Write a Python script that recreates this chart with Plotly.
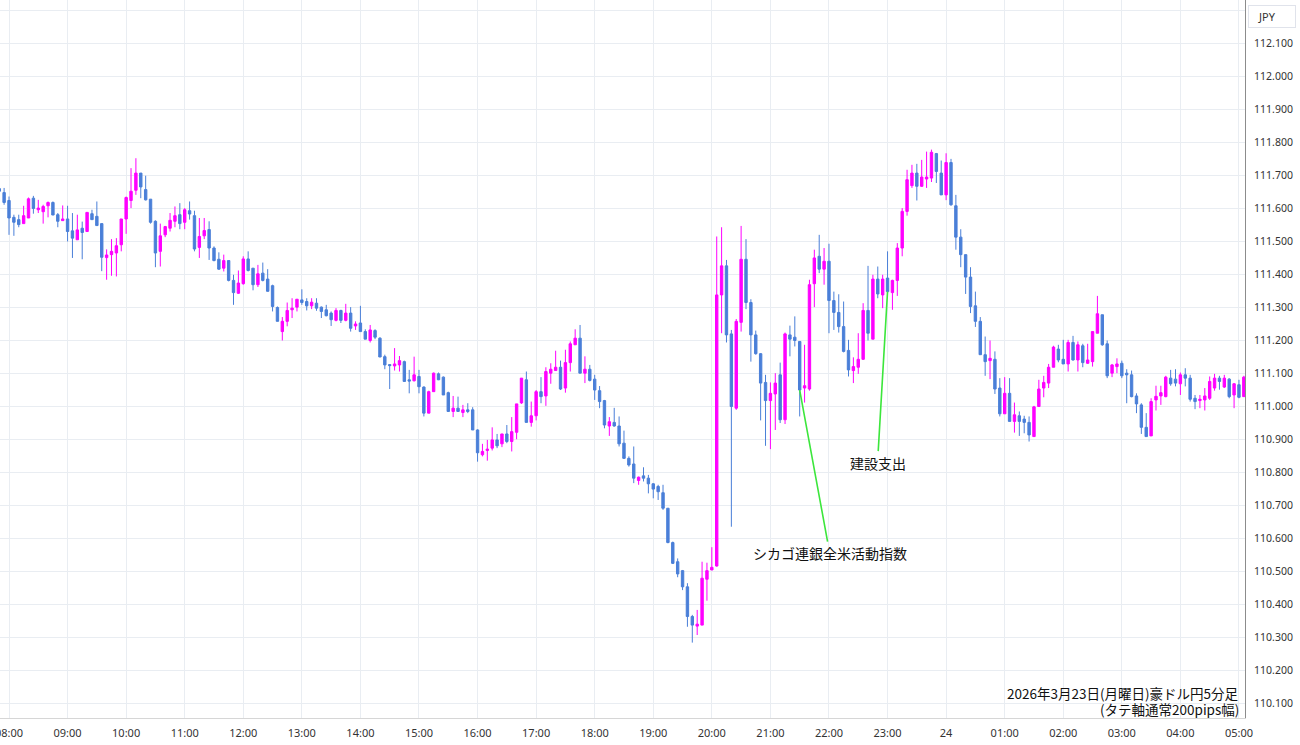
import pandas as pd
import plotly.graph_objects as go

# AUD/JPY 5-minute candles, 2026-03-23 07:50 -> 2026-03-24 05:05
start = "2026-03-23 07:50"

open_ = [
    111.660, 111.648,
    111.624, 111.573, 111.566, 111.554, 111.571, 111.631, 111.596, 111.590, 111.608, 111.618, 111.581, 111.563,
    111.568, 111.532, 111.505, 111.540, 111.530, 111.584, 111.576, 111.554, 111.451, 111.460, 111.465, 111.490,
    111.568, 111.624, 111.655, 111.707, 111.657, 111.628, 111.561, 111.470, 111.520, 111.540, 111.561, 111.581,
    111.558, 111.593, 111.578, 111.482, 111.517, 111.536, 111.480, 111.446, 111.419, 111.442, 111.382, 111.343,
    111.372, 111.447, 111.419, 111.369, 111.404, 111.386, 111.366, 111.300, 111.227, 111.258, 111.293, 111.301,
    111.323, 111.318, 111.305, 111.313, 111.301, 111.293, 111.283, 111.261, 111.291, 111.261, 111.283, 111.244,
    111.253, 111.227, 111.200, 111.230, 111.207, 111.151, 111.127, 111.123, 111.126, 111.136, 111.081, 111.078,
    111.091, 111.059, 110.980, 111.045, 111.099, 111.089, 111.042, 110.985, 110.995, 110.982, 110.990, 110.990,
    110.929, 110.854, 110.867, 110.874, 110.899, 110.887, 110.917, 110.894, 110.922, 111.011, 111.081, 110.952,
    110.972, 111.045, 111.032, 111.101, 111.109, 111.119, 111.056, 111.133, 111.187, 111.207, 111.101, 111.113,
    111.083, 111.048, 111.018, 110.941, 110.952, 110.941, 110.889, 110.843, 110.826, 110.776, 110.790, 110.783,
    110.766, 110.758, 110.739, 110.692, 110.588, 110.530, 110.503, 110.454, 110.364, 110.335, 110.338, 110.477,
    110.505, 110.517, 111.338, 111.426, 111.220, 110.995, 111.255, 111.446, 111.315, 111.217, 111.160, 111.073,
    111.018, 111.038, 111.096, 110.960, 111.217, 111.210, 111.197, 111.056, 111.053, 111.372, 111.455, 111.416,
    111.440, 111.321, 111.285, 111.242, 111.170, 111.109, 111.119, 111.143, 111.291, 111.204, 111.386, 111.338,
    111.389, 111.345, 111.382, 111.480, 111.591, 111.669, 111.707, 111.667, 111.689, 111.692, 111.766, 111.707,
    111.641, 111.739, 111.608, 111.513, 111.460, 111.392, 111.305, 111.258, 111.157, 111.139, 111.143, 111.056,
    110.978, 111.040, 110.955, 110.972, 110.962, 110.952, 110.909, 111.000, 111.056, 111.071, 111.119, 111.174,
    111.143, 111.129, 111.194, 111.141, 111.184, 111.131, 111.136, 111.222, 111.278, 111.190, 111.101, 111.121,
    111.131, 111.101, 111.096, 111.032, 111.005, 110.937, 110.911, 111.020, 111.032, 111.030, 111.086, 111.083,
    111.069, 111.096, 111.086, 111.025, 111.018, 111.020, 111.025, 111.056, 111.086, 111.059, 111.083, 111.035,
    111.066, 111.030,
]

high = [
    111.667, 111.662,
    111.636, 111.581, 111.581, 111.608, 111.633, 111.638, 111.626, 111.611, 111.621, 111.621, 111.586, 111.609,
    111.608, 111.586, 111.581, 111.560, 111.588, 111.596, 111.621, 111.554, 111.476, 111.507, 111.510, 111.568,
    111.636, 111.722, 111.752, 111.707, 111.699, 111.628, 111.564, 111.554, 111.547, 111.586, 111.606, 111.616,
    111.601, 111.621, 111.593, 111.571, 111.571, 111.561, 111.485, 111.467, 111.460, 111.442, 111.399, 111.412,
    111.455, 111.470, 111.419, 111.429, 111.436, 111.416, 111.369, 111.303, 111.271, 111.315, 111.328, 111.325,
    111.355, 111.328, 111.328, 111.328, 111.303, 111.308, 111.288, 111.298, 111.293, 111.311, 111.301, 111.258,
    111.305, 111.234, 111.247, 111.234, 111.210, 111.157, 111.128, 111.177, 111.153, 111.139, 111.111, 111.151,
    111.111, 111.061, 111.048, 111.103, 111.103, 111.091, 111.045, 111.032, 111.030, 111.005, 111.010, 110.998,
    110.931, 110.887, 110.899, 110.937, 110.917, 110.917, 110.944, 110.968, 111.008, 111.086, 111.106, 111.015,
    111.050, 111.089, 111.119, 111.131, 111.169, 111.139, 111.172, 111.197, 111.234, 111.247, 111.152, 111.126,
    111.096, 111.062, 111.020, 110.968, 110.996, 110.970, 110.927, 110.849, 110.879, 110.788, 110.816, 110.793,
    110.768, 110.763, 110.763, 110.692, 110.591, 110.540, 110.505, 110.465, 110.369, 110.384, 110.530, 110.527,
    110.574, 111.515, 111.543, 111.444, 111.232, 111.265, 111.547, 111.507, 111.325, 111.230, 111.162, 111.096,
    111.073, 111.101, 111.133, 111.224, 111.245, 111.273, 111.197, 111.187, 111.384, 111.475, 111.520, 111.480,
    111.493, 111.348, 111.340, 111.318, 111.202, 111.149, 111.222, 111.313, 111.426, 111.399, 111.424, 111.399,
    111.470, 111.384, 111.495, 111.601, 111.717, 111.732, 111.735, 111.747, 111.772, 111.778, 111.768, 111.745,
    111.767, 111.750, 111.641, 111.537, 111.460, 111.422, 111.348, 111.271, 111.212, 111.200, 111.167, 111.086,
    111.089, 111.086, 111.012, 110.985, 110.972, 110.970, 111.002, 111.081, 111.093, 111.129, 111.184, 111.187,
    111.202, 111.202, 111.214, 111.197, 111.190, 111.190, 111.227, 111.335, 111.278, 111.200, 111.129, 111.146,
    111.139, 111.113, 111.109, 111.040, 111.010, 110.980, 111.025, 111.063, 111.063, 111.093, 111.111, 111.113,
    111.103, 111.116, 111.096, 111.035, 111.035, 111.056, 111.091, 111.099, 111.093, 111.096, 111.086, 111.071,
    111.081, 111.093,
]

low = [
    111.645, 111.611,
    111.520, 111.517, 111.543, 111.554, 111.571, 111.584, 111.586, 111.554, 111.573, 111.580, 111.543, 111.563,
    111.500, 111.450, 111.505, 111.446, 111.530, 111.566, 111.548, 111.410, 111.384, 111.396, 111.394, 111.470,
    111.523, 111.601, 111.641, 111.631, 111.624, 111.554, 111.422, 111.424, 111.513, 111.530, 111.543, 111.537,
    111.537, 111.566, 111.470, 111.450, 111.507, 111.444, 111.440, 111.414, 111.409, 111.379, 111.308, 111.341,
    111.369, 111.409, 111.352, 111.362, 111.379, 111.348, 111.288, 111.258, 111.200, 111.243, 111.268, 111.288,
    111.308, 111.291, 111.295, 111.290, 111.268, 111.273, 111.244, 111.258, 111.253, 111.258, 111.227, 111.232,
    111.227, 111.204, 111.194, 111.204, 111.150, 111.113, 111.053, 111.109, 111.106, 111.076, 111.040, 111.076,
    111.040, 110.970, 110.980, 111.045, 111.080, 111.035, 110.985, 110.968, 110.985, 110.968, 110.980, 110.929,
    110.833, 110.849, 110.836, 110.867, 110.874, 110.877, 110.889, 110.864, 110.901, 111.008, 110.952, 110.939,
    110.958, 111.010, 111.002, 111.069, 111.109, 111.050, 111.042, 111.106, 111.187, 111.101, 111.071, 111.076,
    111.020, 110.995, 110.934, 110.911, 110.939, 110.879, 110.841, 110.818, 110.768, 110.763, 110.773, 110.737,
    110.722, 110.717, 110.687, 110.586, 110.523, 110.483, 110.444, 110.333, 110.285, 110.308, 110.338, 110.412,
    110.505, 110.515, 111.222, 111.194, 110.636, 110.990, 111.227, 111.295, 111.136, 111.157, 110.958, 110.881,
    110.871, 110.929, 110.950, 110.947, 111.152, 111.182, 110.970, 111.012, 111.048, 111.301, 111.404, 111.369,
    111.222, 111.232, 111.224, 111.164, 111.091, 111.071, 111.099, 111.141, 111.200, 111.204, 111.328, 111.298,
    111.345, 111.293, 111.335, 111.455, 111.578, 111.662, 111.624, 111.665, 111.662, 111.680, 111.677, 111.641,
    111.625, 111.608, 111.475, 111.422, 111.341, 111.283, 111.241, 111.157, 111.093, 111.083, 111.038, 110.970,
    110.978, 110.955, 110.921, 110.911, 110.919, 110.894, 110.909, 111.000, 111.028, 111.056, 111.119, 111.134,
    111.129, 111.106, 111.139, 111.106, 111.119, 111.129, 111.121, 111.222, 111.184, 111.086, 111.089, 111.101,
    111.086, 111.010, 111.028, 110.980, 110.917, 110.909, 110.911, 110.988, 111.005, 111.028, 111.063, 111.061,
    111.035, 111.061, 111.015, 110.992, 110.995, 110.988, 111.020, 111.048, 111.051, 111.056, 111.025, 110.995,
    111.025, 111.030,
]

close = [
    111.652, 111.618,
    111.571, 111.558, 111.551, 111.578, 111.629, 111.600, 111.601, 111.606, 111.618, 111.580, 111.561, 111.568,
    111.530, 111.510, 111.535, 111.527, 111.588, 111.566, 111.548, 111.452, 111.459, 111.470, 111.487, 111.568,
    111.633, 111.652, 111.707, 111.665, 111.626, 111.558, 111.465, 111.517, 111.545, 111.564, 111.578, 111.554,
    111.596, 111.583, 111.477, 111.515, 111.533, 111.480, 111.442, 111.416, 111.442, 111.382, 111.345, 111.374,
    111.447, 111.412, 111.369, 111.402, 111.382, 111.349, 111.303, 111.258, 111.258, 111.291, 111.298, 111.325,
    111.315, 111.305, 111.316, 111.298, 111.288, 111.275, 111.263, 111.291, 111.261, 111.283, 111.237, 111.250,
    111.227, 111.204, 111.232, 111.210, 111.150, 111.126, 111.124, 111.129, 111.139, 111.076, 111.077, 111.096,
    111.060, 110.980, 111.045, 111.101, 111.081, 111.035, 110.985, 110.995, 110.985, 110.990, 110.985, 110.929,
    110.860, 110.864, 110.871, 110.899, 110.881, 110.917, 110.894, 110.924, 111.008, 111.086, 110.952, 110.972,
    111.045, 111.030, 111.106, 111.113, 111.119, 111.053, 111.133, 111.190, 111.207, 111.101, 111.113, 111.079,
    111.050, 111.015, 110.944, 110.954, 110.941, 110.887, 110.843, 110.823, 110.783, 110.786, 110.783, 110.766,
    110.750, 110.742, 110.692, 110.588, 110.525, 110.493, 110.454, 110.364, 110.338, 110.341, 110.480, 110.503,
    110.513, 111.338, 111.426, 111.217, 111.000, 111.258, 111.446, 111.315, 111.217, 111.160, 111.071, 111.018,
    111.040, 111.071, 110.960, 111.220, 111.204, 111.200, 111.050, 111.063, 111.369, 111.450, 111.416, 111.440,
    111.321, 111.285, 111.242, 111.167, 111.111, 111.121, 111.143, 111.291, 111.222, 111.386, 111.341, 111.386,
    111.348, 111.382, 111.480, 111.591, 111.687, 111.707, 111.667, 111.695, 111.695, 111.770, 111.712, 111.641,
    111.739, 111.611, 111.513, 111.460, 111.392, 111.303, 111.258, 111.157, 111.136, 111.146, 111.053, 110.978,
    111.040, 110.955, 110.975, 110.955, 110.952, 110.914, 110.999, 111.053, 111.073, 111.119, 111.180, 111.141,
    111.129, 111.194, 111.141, 111.187, 111.133, 111.141, 111.227, 111.281, 111.187, 111.093, 111.126, 111.129,
    111.093, 111.096, 111.030, 111.008, 110.937, 110.909, 111.015, 111.031, 111.042, 111.089, 111.069, 111.071,
    111.096, 111.086, 111.022, 111.015, 111.022, 111.032, 111.076, 111.086, 111.076, 111.086, 111.030, 111.069,
    111.028, 111.089,
]

# economic event call-outs: (candle time, label)
events = [
    ("2026-03-23 21:30", "シカゴ連銀全米活動指数"),
    ("2026-03-23 23:00", "建設支出"),
]
caption_lines = ["2026年3月23日(月曜日)豪ドル円5分足", "(タテ軸通常200pips幅)"]
currency_label = "JPY"

UP = "#ff00ff"
DN = "#4a7fd8"
GRID = "#e9edf2"
GREEN = "#3ce63c"
TXT = "#333333"
CJK = "Noto Sans CJK JP, Noto Sans, sans-serif"

times = pd.date_range(start, periods=len(open_), freq="5min")
tick_times = pd.date_range("2026-03-23 08:00", "2026-03-24 05:00", freq="1h")
tick_text = ["24" if t.hour == 0 else t.strftime("%H:%M") for t in tick_times]
y_ticks = [round(110.1 + 0.1 * i, 1) for i in range(22)]

fig = go.Figure(
    go.Candlestick(
        x=times, open=open_, high=high, low=low, close=close,
        increasing=dict(line=dict(color=UP, width=1), fillcolor=UP),
        decreasing=dict(line=dict(color=DN, width=1), fillcolor=DN),
        whiskerwidth=0, hoverinfo="skip", showlegend=False,
    )
)

annotations = []
offsets = [(30, 163), (-10, 171)]
for (t, label), (ax, ay) in zip(events, offsets):
    ts = pd.Timestamp(t)
    idx = list(times).index(ts)
    annotations.append(dict(
        x=ts, y=close[idx], xref="x", yref="y", ax=ax, ay=ay,
        text=label, showarrow=True, arrowhead=0, arrowwidth=1.6,
        arrowcolor=GREEN, standoff=0, startstandoff=0,
        font=dict(family=CJK, size=14, color="#111111"),
    ))

# caption at bottom right
annotations.append(dict(
    xref="paper", yref="paper", x=0.9968, y=0.0348, xanchor="right", yanchor="middle",
    text=caption_lines[0], showarrow=False,
    font=dict(family=CJK, size=13.5, color="#111111"),
))
annotations.append(dict(
    xref="paper", yref="paper", x=0.9968, y=0.0125, xanchor="right", yanchor="middle",
    text=caption_lines[1], showarrow=False,
    font=dict(family=CJK, size=13.5, color="#111111"),
))
# currency box (covers top tick) and its label
annotations.append(dict(
    xref="paper", yref="paper", x=1.0217, y=0.977, xanchor="center", yanchor="middle",
    text=" ", showarrow=False, width=46, height=21, bgcolor="white",
    bordercolor="#e0e3eb", borderwidth=1, borderpad=0,
))
annotations.append(dict(
    xref="paper", yref="paper", x=1.0176, y=0.977, xanchor="center", yanchor="middle",
    text=currency_label, showarrow=False,
    font=dict(family="Noto Sans, sans-serif", size=11, color=TXT),
))

fig.update_layout(
    width=1300, height=745,
    margin=dict(l=0, r=55, t=0, b=27, autoexpand=False),
    paper_bgcolor="white", plot_bgcolor="white",
    annotations=annotations,
    xaxis=dict(
        range=[pd.Timestamp("2026-03-23 07:50:47"), pd.Timestamp("2026-03-24 05:06:11")],
        rangeslider=dict(visible=False),
        tickvals=tick_times, ticktext=tick_text,
        tickfont=dict(family="Noto Sans, sans-serif", size=11, color=TXT),
        showgrid=True, gridcolor=GRID, gridwidth=1, zeroline=False,
        showline=True, linecolor="#d6d6d6", ticks="", ticklabelstandoff=5,
        ticklabeloverflow="allow", fixedrange=True, automargin=False,
    ),
    yaxis=dict(
        side="right", range=[110.0567, 112.2312],
        tickvals=y_ticks, tickformat=".3f",
        tickfont=dict(family="Noto Sans, sans-serif", size=10.5, color=TXT),
        showgrid=True, gridcolor=GRID, gridwidth=1, zeroline=False,
        showline=True, linecolor="#8c8c8c", ticks="", ticklabelstandoff=6,
        ticklabeloverflow="allow", fixedrange=True, automargin=False,
    ),
)

fig.write_html(
    "out.html",
    config={"displayModeBar": False, "responsive": False},
    post_script="document.body.style.margin='0px';document.body.style.overflow='hidden';",
)
